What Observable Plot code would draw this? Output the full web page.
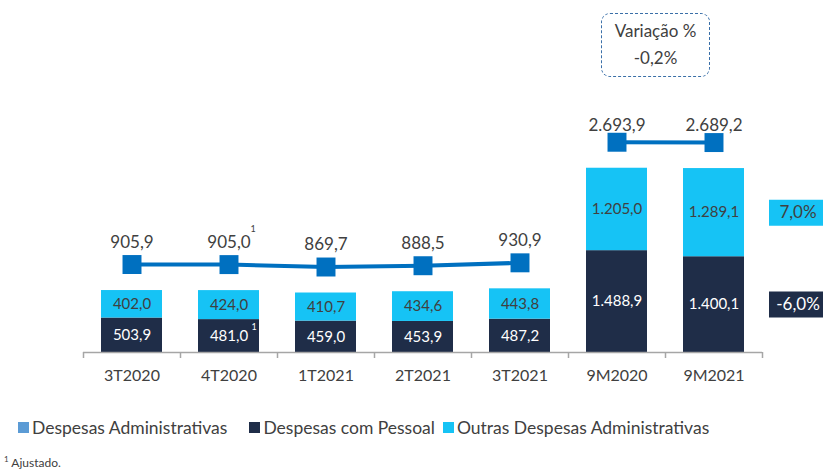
<!DOCTYPE html>
<html><head><meta charset="utf-8">
<script src="https://cdn.jsdelivr.net/npm/d3@7"></script>
<script src="https://cdn.jsdelivr.net/npm/@observablehq/plot@0.6"></script>
<style>
body{margin:0;background:#fff;font-family:Lato,"Open Sans",sans-serif;color:#404040;}
#wrap{position:relative;width:823px;height:472px;overflow:hidden;background:#fff;}
#chart{position:absolute;left:0;top:0;}
#varbox{position:absolute;left:601px;top:13px;width:107px;height:59px;border:1.3px dashed #3A6FA8;border-radius:9px;text-align:center;font-size:17px;line-height:27px;padding-top:3px;box-sizing:content-box;}
#legend{position:absolute;left:18px;top:416px;font-size:17.5px;white-space:nowrap;}
#legend span.item{display:inline-flex;align-items:center;}
#legend span.sw{display:inline-block;width:11px;height:11px;margin-right:3px;}
#foot{position:absolute;left:4px;top:454px;font-size:12px;}
</style></head><body>
<div id="wrap">
  <div id="chart"></div>
  <div id="varbox"></div>
  <div id="legend"></div>
  <div id="foot"></div>
</div>
<script>
// ---- data ----
const categories = ["3T2020","4T2020","1T2021","2T2021","3T2021","9M2020","9M2021"];
const pessoal = [503.9, 481.0, 459.0, 453.9, 487.2, 1488.9, 1400.1];
const outras  = [402.0, 424.0, 410.7, 434.6, 443.8, 1205.0, 1289.1];
const totals  = [905.9, 905.0, 869.7, 888.5, 930.9, 2693.9, 2689.2];
const groups  = ["T","T","T","T","T","9M","9M"];
const adjusted = ["4T2020"];              // items marked with footnote "1"
const changeOutras = "7,0%";
const changePessoal = "-6,0%";
const changeTotal = "-0,2%";
const seriesNames = ["Despesas Administrativas","Despesas com Pessoal","Outras Despesas Administrativas"];
const seriesColors = ["#5B9BD5","#1F2D48","#16C3F5"];
const footnoteText = "Ajustado.";

// ---- build ----
const loc = d3.formatLocale({decimal:",", thousands:".", grouping:[3], currency:["R$",""]});
const fmt = loc.format(",.1f");
const rows = categories.map((c,i)=>({cat:c, pessoal:pessoal[i], outras:outras[i], total:totals[i], group:groups[i], adj:adjusted.includes(c)}));
const qRows = rows.filter(d=>d.group==="T");
const mRows = rows.filter(d=>d.group==="9M");
const last = rows[rows.length-1];

const LINE = "#0070C0", DARK = seriesColors[1], CYAN = seriesColors[2], TXT = "#404040";
const boxSym = {draw(ctx){ ctx.rect(-29,-13,58,26); }};

const chart = Plot.plot({
  width: 823,
  height: 400,
  marginLeft: 83,
  marginRight: 61,
  marginTop: 10,
  marginBottom: 48,
  style: {fontFamily: "Lato, 'Open Sans', sans-serif", color: TXT, background: "transparent", overflow: "visible"},
  x: {domain: categories, paddingInner: 0.37, paddingOuter: 0.185, label: null},
  y: {domain: [0, 5000], axis: null},
  marks: [
    Plot.barY(rows, {x:"cat", y1:0, y2:"pessoal", fill:DARK}),
    Plot.barY(rows, {x:"cat", y1:"pessoal", y2:"total", fill:CYAN}),
    Plot.ruleY([0], {stroke:"#A6A6A6", strokeWidth:1.5}),
    Plot.ruleX(categories, {x:d=>d, y1:0, y2:0, dx:-48.5, insetBottom:-6, stroke:"#A6A6A6", strokeWidth:1.5}),
    Plot.ruleX([last.cat], {x:d=>d, y1:0, y2:0, dx:48.5, insetBottom:-6, stroke:"#A6A6A6", strokeWidth:1.5}),
    Plot.axisX({tickSize:0, tickPadding:17, fontSize:16, label:null}),
    // segment labels
    Plot.text(rows, {x:"cat", y:d=>d.pessoal/2, text:d=>fmt(d.pessoal), fill:"white", fontSize:15}),
    Plot.text(rows, {x:"cat", y:d=>d.pessoal + d.outras/2, text:d=>fmt(d.outras), fill:TXT, fontSize:15}),
    Plot.text(rows.filter(d=>d.adj), {x:"cat", y:d=>d.pessoal/2, text:()=>"1", fill:"white", fontSize:9, dx:25, dy:-9}),
    // total line
    Plot.line(rows, {x:"cat", y:"total", z:"group", stroke:LINE, strokeWidth:4, dy:-26}),
    Plot.dot(rows, {x:"cat", y:"total", symbol:"square", r:10.7, fill:LINE, stroke:null, dy:-26}),
    Plot.text(qRows, {x:"cat", y:"total", text:d=>fmt(d.total), fill:TXT, fontSize:17, dy:-48}),
    Plot.text(mRows, {x:"cat", y:"total", text:d=>fmt(d.total), fill:TXT, fontSize:17, dy:-43}),
    Plot.text(qRows.filter(d=>d.adj), {x:"cat", y:"total", text:()=>"1", fill:TXT, fontSize:9, dx:24, dy:-61}),
    // variation boxes at right
    Plot.dot([last], {x:"cat", y:d=>d.pessoal + d.outras/2, symbol:boxSym, fill:CYAN, stroke:null, dx:84}),
    Plot.text([last], {x:"cat", y:d=>d.pessoal + d.outras/2, text:()=>changeOutras, fill:TXT, fontSize:17, dx:84}),
    Plot.dot([last], {x:"cat", y:d=>d.pessoal/2, symbol:boxSym, fill:DARK, stroke:null, dx:84}),
    Plot.text([last], {x:"cat", y:d=>d.pessoal/2, text:()=>changePessoal, fill:"white", fontSize:17, dx:84})
  ]
});
document.getElementById("chart").appendChild(chart);

document.getElementById("varbox").innerHTML = `<div>Variação %</div><div>${changeTotal}</div>`;

const leg = document.getElementById("legend");
const gaps = [22, 8, 0];
seriesNames.forEach((n,i)=>{
  const s = document.createElement("span"); s.className="item";
  s.style.marginRight = gaps[i] + "px";
  s.innerHTML = `<span class="sw" style="background:${seriesColors[i]}"></span>${n}`;
  leg.appendChild(s);
});
document.getElementById("foot").innerHTML = `<sup style="font-size:8px">1</sup> ${footnoteText}`;
</script>
</body></html>
